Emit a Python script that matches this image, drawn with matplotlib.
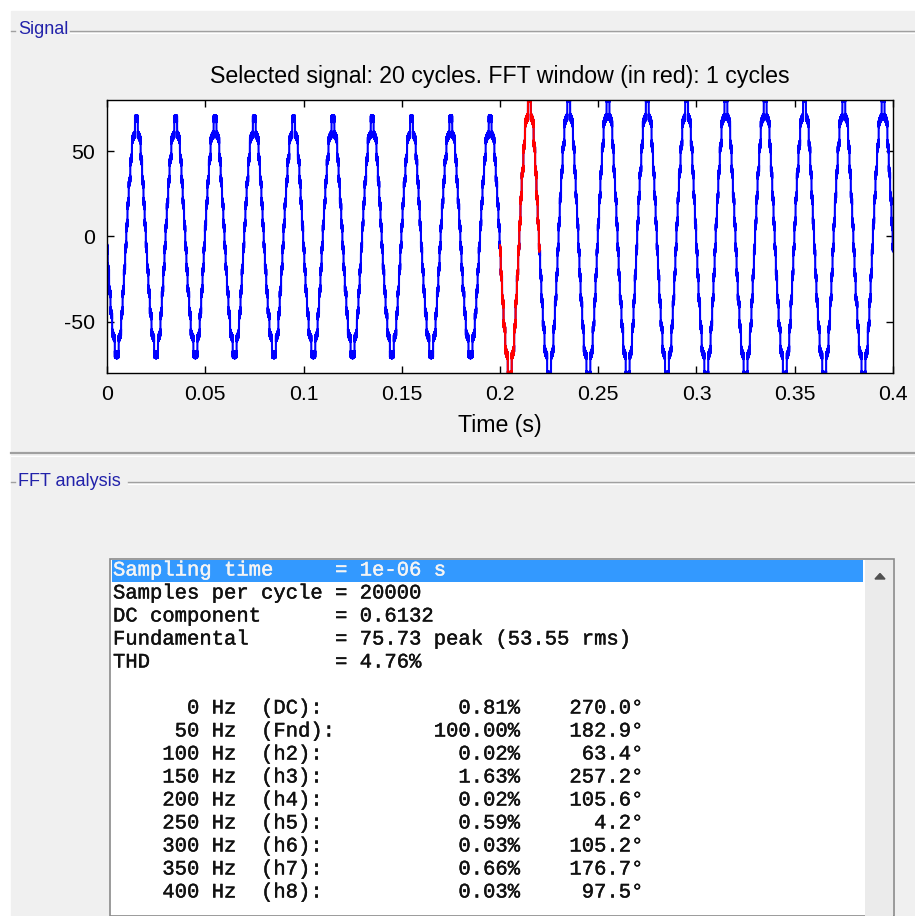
import numpy as np
import matplotlib.pyplot as plt
import matplotlib.patheffects as pe
from matplotlib.patches import Rectangle, Polygon

plt.rcParams['axes.unicode_minus'] = False

# ============================================================
# 数据（从截图读取）
# ============================================================
# FFT 列表：频率 / 标签 / 幅值(% of Fnd) / 相位(deg)
harm_freq = [0, 50, 100, 150, 200, 250, 300, 350, 400]
harm_label = ['(DC):', '(Fnd):', '(h2):', '(h3):', '(h4):', '(h5):', '(h6):', '(h7):', '(h8):']
harm_mag = [0.81, 100.00, 0.02, 1.63, 0.02, 0.59, 0.03, 0.66, 0.03]
harm_phase = [270.0, 182.9, 63.4, 257.2, 105.6, 4.2, 105.2, 176.7, 97.5]

info_names = ['Sampling time', 'Samples per cycle', 'DC component', 'Fundamental', 'THD']
info_values = ['1e-06 s', '20000', '0.6132', '75.73 peak (53.55 rms)', '4.76%']

# 每个周期的基波峰值（前 10 个周期约 67，后 10 个周期约 78）
cycle_peak = [67.0, 67.0, 67.0, 67.0, 67.0, 67.0, 67.0, 67.0, 67.0, 67.0,
              78.5, 78.5, 78.5, 78.5, 78.5, 78.5, 78.5, 78.5, 78.5, 78.5]

# 多电平阶梯（相对峰值的电平间隔）+ 每个电平上的开关纹波
level_step = 0.192
level_hold = 0.7
ripple_amp = 1.9
ripple_freq = 25000

f0 = 50
t_end = 0.4
fft_window = (0.2, 0.22)

xticks = [0, 0.05, 0.1, 0.15, 0.2, 0.25, 0.3, 0.35, 0.4]
xtick_labels = ['0', '0.05', '0.1', '0.15', '0.2', '0.25', '0.3', '0.35', '0.4']
yticks = [-50, 0, 50]

title = 'Selected signal: 20 cycles. FFT window (in red): 1 cycles'

# ============================================================
# 信号重建：谐波合成 -> 阶梯量化 -> 叠加纹波
# ============================================================
dt = 2e-6
t = np.arange(0, t_end + dt, dt)
cyc = np.minimum((t * f0).astype(int), len(cycle_peak) - 1)
amp = np.array(cycle_peak)[cyc]

u = np.zeros_like(t)
for f, m, p in zip(harm_freq, harm_mag, harm_phase):
    u += m / 100 * np.sin(2 * np.pi * f * t + np.deg2rad(p))

q = (np.floor(u / level_step) + 0.5) * level_step
y = amp * (u + level_hold * (q - u))
y += ripple_amp * np.sign(np.sin(2 * np.pi * ripple_freq * t))

win = (t >= fft_window[0]) & (t <= fft_window[1])

# ============================================================
# 画布
# ============================================================
W, H = 915, 916
fig = plt.figure(figsize=(W / 100, H / 100), dpi=100)

bg = fig.add_axes([0, 0, 1, 1])
bg.set_xlim(0, W)
bg.set_ylim(H, 0)
bg.axis('off')

gray = '#f0f0f0'
bg.add_patch(Rectangle((0, 0), W, H, color='white', zorder=0))
bg.add_patch(Rectangle((11, 11), W - 11, H - 11, color=gray, zorder=0))

panel_col = '#2222aa'
line_col = '#a0a0a0'
sans = 'Liberation Sans'

# Signal 面板标题
bg.text(18, 30, 'Signal', color=panel_col, fontsize=13, family=sans, va='center')
bg.plot([11, 15], [31, 31], color=line_col, lw=1)
bg.plot([70, W], [31, 31], color=line_col, lw=1)
bg.plot([70, W], [32.5, 32.5], color='white', lw=0.8)

# 分隔线
bg.plot([11, W], [453, 453], color=line_col, lw=1.6)
bg.plot([11, W], [455.5, 455.5], color='white', lw=0.8)

# FFT analysis 面板标题
bg.text(18, 481, 'FFT analysis', color=panel_col, fontsize=13, family=sans, va='center')
bg.plot([11, 15], [482, 482], color=line_col, lw=1)
bg.plot([128, W], [482, 482], color=line_col, lw=1)
bg.plot([128, W], [483.5, 483.5], color='white', lw=0.8)

# 列表框
bg.add_patch(Rectangle((110, 559), 784, H - 559, facecolor='white',
                       edgecolor='#8a8a8a', lw=1.2, zorder=1))
bg.add_patch(Rectangle((865, 560), 28, H - 560, facecolor='#ebebeb',
                       edgecolor='none', zorder=2))
bg.add_patch(Polygon([(875, 579), (885, 579), (880, 573.5)], closed=True,
                     color='#505050', zorder=3))
bg.add_patch(Rectangle((112, 560), 751, 22, facecolor='#3399ff',
                       edgecolor='none', zorder=2))

lines = [f'{n:<17s} = {v}' for n, v in zip(info_names, info_values)]
lines.append('')
for f, lab, m, p in zip(harm_freq, harm_label, harm_mag, harm_phase):
    lines.append(f'{f:>7d} Hz  {lab:<6s}{m:>14.2f}%{p:>9.1f}°')

for i, s in enumerate(lines):
    col = '#f4f4f4' if i == 0 else '#111111'
    bg.text(113, 570 + 23 * i, s, family='Liberation Mono', fontsize=14.8,
            va='center', ha='left', zorder=4, color=col,
            path_effects=[pe.withStroke(linewidth=0.3, foreground=col)])

# ============================================================
# 信号曲线
# ============================================================
ax = fig.add_axes([107 / W, 1 - 373 / H, (893 - 107) / W, (373 - 100) / H])
ax.set_facecolor('white')
ax.plot(t, y, color='#0000ff', lw=1.5)
ax.plot(t[win], y[win], color='#ff0000', lw=1.5)

ax.set_xlim(0, t_end)
ax.set_ylim(-80, 80)
ax.set_xticks(xticks)
ax.set_xticklabels(xtick_labels)
ax.set_yticks(yticks)
ax.tick_params(direction='in', length=5, width=1, top=True, right=True,
               labelsize=15.3, pad=8.5)
for lab in ax.get_xticklabels() + ax.get_yticklabels():
    lab.set_family(sans)
for sp in ax.spines.values():
    sp.set_linewidth(1)

ax.set_title(title, fontsize=16.7, family=sans, pad=12)
ax.set_xlabel('Time (s)', fontsize=16.7, family=sans, labelpad=7)

fig.savefig('out.png', dpi=100)
